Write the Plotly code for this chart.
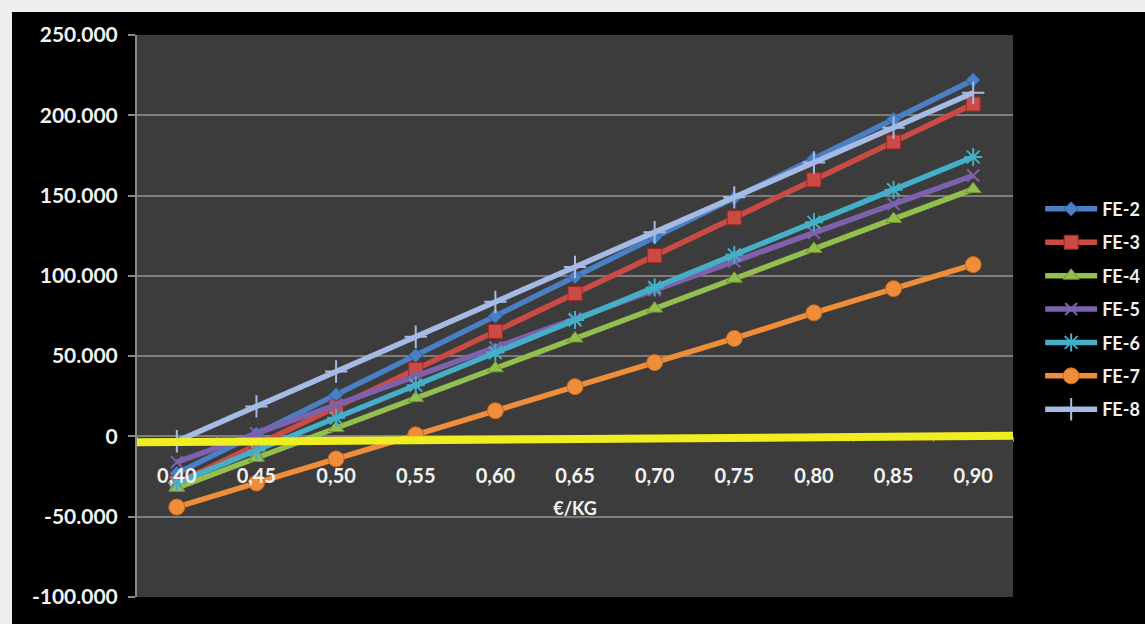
import plotly.graph_objects as go

# Price per kilo (category axis labels)
PRICES = ["0,40", "0,45", "0,50", "0,55", "0,60", "0,65",
          "0,70", "0,75", "0,80", "0,85", "0,90"]

# Result per farm at each price
FE_2 = [-23000, 1500, 26000, 50500, 75000, 99500, 124000, 148500, 173000, 197500, 222000]
FE_3 = [-29000, -5400, 18200, 41800, 65400, 89000, 112600, 136200, 159800, 183400, 207000]
FE_4 = [-32000, -13400, 5200, 23800, 42400, 61000, 79600, 98200, 116800, 135400, 154000]
FE_5 = [-16000, 1900, 19700, 37600, 55400, 73300, 91100, 109000, 126800, 144700, 162500]
FE_6 = [-29000, -8700, 11600, 31900, 52200, 72500, 92800, 113100, 133400, 153700, 174000]
FE_7 = [-44000, -29000, -14000, 1000, 16000, 31000, 46000, 61000, 77000, 92000, 107000]
FE_8 = [-3000, 18700, 40400, 62100, 83800, 105500, 127200, 148900, 170600, 192300, 214000]

# Value axis
Y_TICKS = [-100000, -50000, 0, 50000, 100000, 150000, 200000, 250000]
Y_LABELS = ["-100.000", "-50.000", "0", "50.000", "100.000", "150.000", "200.000", "250.000"]

# Hand-drawn break-even marker (left end, right end)
ZERO_LINE = [-3700, 400]

SERIES = [
    ("FE-2", FE_2, "#4a7fc4", dict(symbol="diamond", size=11, line=dict(color="#2f5d99", width=1))),
    ("FE-3", FE_3, "#cc4a44", dict(symbol="square", size=14, line=dict(color="#9e2a26", width=1))),
    ("FE-4", FE_4, "#93bf4e", dict(symbol="triangle-up", size=14, line=dict(color="#6f9433", width=1))),
    ("FE-5", FE_5, "#7d61ad", dict(symbol="x-thin-open", size=12, line=dict(color="#8a70c0", width=2))),
    ("FE-6", FE_6, "#45afc8", dict(symbol="asterisk-open", size=15, line=dict(color="#52bcd6", width=2))),
    ("FE-7", FE_7, "#f08d3a", dict(symbol="circle", size=16, line=dict(color="#c86a1c", width=1))),
    ("FE-8", FE_8, "#a5bbe6", dict(symbol="cross-thin-open", size=16, line=dict(color="#b4c6ec", width=2))),
]

FONT = "Lato"
WHITE = "#f2f2f2"

fig = go.Figure()
for name, values, color, marker in SERIES:
    fig.add_trace(go.Scatter(
        x=PRICES, y=values, name=name, legendgroup=name,
        mode="lines+markers",
        line=dict(color=color, width=5.5),
        marker=dict(color=color, **marker),
    ))

y_min, y_max = Y_TICKS[0], Y_TICKS[-1]

fig.update_layout(
    width=1145, height=624,
    margin=dict(l=137, r=132, t=35, b=27, autoexpand=False),
    paper_bgcolor="#000000",
    plot_bgcolor="#3c3c3c",
    showlegend=True,
    legend=dict(
        x=1.031, y=0.723, xanchor="left", yanchor="top",
        font=dict(family=FONT, size=18, color=WHITE, weight="bold"),
        bgcolor="rgba(0,0,0,0)", traceorder="grouped",
        tracegroupgap=7, itemwidth=52,
    ),
    xaxis=dict(
        type="category", range=[-0.5, len(PRICES) - 0.5],
        anchor="free", position=(0 - y_min) / (y_max - y_min),
        showgrid=False, showline=False, zeroline=False,
        ticks="outside", tickson="boundaries", ticklen=5, tickcolor="#8a8a8a",
        ticklabelstandoff=26,
        tickfont=dict(family=FONT, size=20, color=WHITE, weight="bold"),
        title=dict(text="€/KG", standoff=15,
                   font=dict(family=FONT, size=18, color=WHITE, weight="bold")),
    ),
    yaxis=dict(
        range=[y_min, y_max], tickvals=Y_TICKS, ticktext=Y_LABELS,
        showgrid=True, gridcolor="#7d7d7d", gridwidth=2,
        zeroline=False,
        showline=True, linecolor="#8a8a8a", linewidth=2,
        ticks="outside", ticklen=7, tickcolor="#8a8a8a", tickwidth=2,
        ticklabelstandoff=6,
        tickfont=dict(family=FONT, size=21, color=WHITE, weight="bold"),
    ),
    shapes=[
        # light frame along the top and left edges
        dict(type="rect", xref="paper", yref="paper", layer="below",
             x0=-137 / 876, x1=1008 / 876, y0=(597 - 12) / 562, y1=597 / 562,
             fillcolor="#efefef", line=dict(width=0)),
        dict(type="rect", xref="paper", yref="paper", layer="below",
             x0=-137 / 876, x1=-125 / 876, y0=-27 / 562, y1=597 / 562,
             fillcolor="#efefef", line=dict(width=0)),
        # break-even line
        dict(type="line", xref="x", yref="y", layer="above",
             x0=-0.5, x1=len(PRICES) - 0.5, y0=ZERO_LINE[0], y1=ZERO_LINE[1],
             line=dict(color="#eeee22", width=8)),
    ],
)

fig.write_html("out.html")
